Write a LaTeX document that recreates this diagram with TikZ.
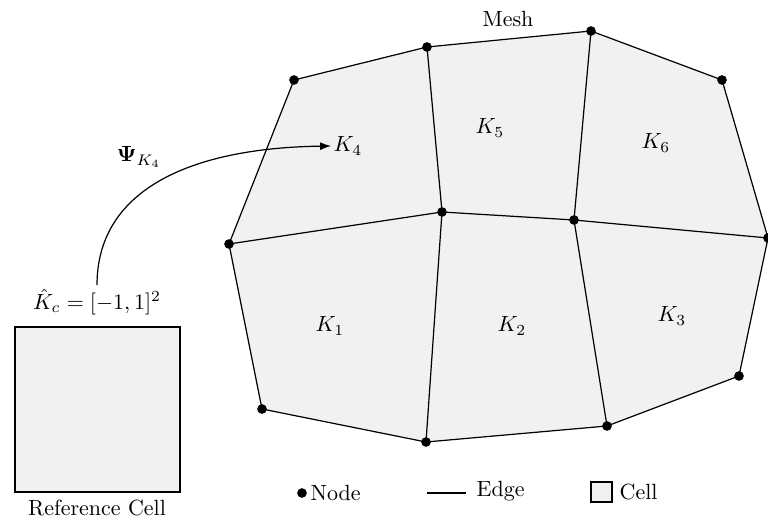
\documentclass[tikz,border=0pt]{standalone}
\usepackage{amsmath}
\usetikzlibrary{arrows.meta}
\definecolor{cellfill}{RGB}{241,241,241}
\tikzset{
  vtx/.style={circle, fill=black, inner sep=0pt, minimum size=4.4pt},
  edgeline/.style={line width=0.55pt, black},
  cellarea/.style={fill=cellfill},
  lbl/.style={inner sep=1pt},
}
\begin{document}
\begin{tikzpicture}[x=0.4545pt, y=-0.4545pt]
\useasboundingbox (0,0) rectangle (768,519);

% mesh vertices
\coordinate (a1) at (294,80);
\coordinate (a2) at (427,47);
\coordinate (a3) at (591,31);
\coordinate (a4) at (722,80);
\coordinate (b1) at (229,244);
\coordinate (b2) at (442,212);
\coordinate (b3) at (574,220);
\coordinate (b4) at (768,238);
\coordinate (c1) at (262,409);
\coordinate (c2) at (426,442);
\coordinate (c3) at (607,426);
\coordinate (c4) at (739,376);

% cells
\fill[cellarea] (a1) -- (a2) -- (a3) -- (a4) -- (b4) -- (c4) -- (c3) -- (c2) -- (c1) -- (b1) -- cycle;

% edges
\draw[edgeline] (a1) -- (a2) -- (a3) -- (a4) -- (b4) -- (c4) -- (c3) -- (c2) -- (c1) -- (b1) -- cycle;
\draw[edgeline] (b1) -- (b2) -- (b3) -- (b4);
\draw[edgeline] (a2) -- (b2) -- (c2);
\draw[edgeline] (a3) -- (b3) -- (c3);

% nodes
\foreach \p in {a1,a2,a3,a4,b1,b2,b3,b4,c1,c2,c3,c4}
  \node[vtx] at (\p) {};

% cell labels
\node[lbl] (k1) at (330,326) {$K_1$};
\node[lbl] (k2) at (512,326) {$K_2$};
\node[lbl] (k3) at (672,316) {$K_3$};
\node[lbl] (k4) at (348,146) {$K_4$};
\node[lbl] (k5) at (490,128) {$K_5$};
\node[lbl] (k6) at (656,143) {$K_6$};
\node[lbl] (mesh) at (508,19) {Mesh};

% reference cell
\draw[cellarea, draw=black, line width=0.55pt] (15,327) rectangle (180,492);
\node[lbl] (refeq) at (97,302) {$\hat{K}_c = [-1,1]^2$};
\node[lbl] (reflbl) at (97,508) {Reference Cell};
\coordinate (mapstart) at (97,285);

% mapping arrow
\draw[edgeline, -{Latex[length=5pt, width=3.6pt]}]
  (mapstart) .. controls (97,190) and (190,148) .. (k4.west);
\node[lbl] (psi) at (139,157) {$\mathbf{\Psi}_{K_4}$};

% legend
\node[vtx] (legdot) at (302,493) {};
\node[lbl, anchor=west] (legnode) at (308,493) {Node};
\coordinate (lineA) at (427,493);
\coordinate (lineB) at (466,493);
\draw[edgeline] (lineA) -- (lineB);
\node[lbl, anchor=west] (legedge) at (474,491) {Edge};
\draw[cellarea, draw=black, line width=0.55pt] (591,482) rectangle (612,502);
\node[lbl, anchor=west] (legcell) at (617,492) {Cell};
\end{tikzpicture}
\end{document}
